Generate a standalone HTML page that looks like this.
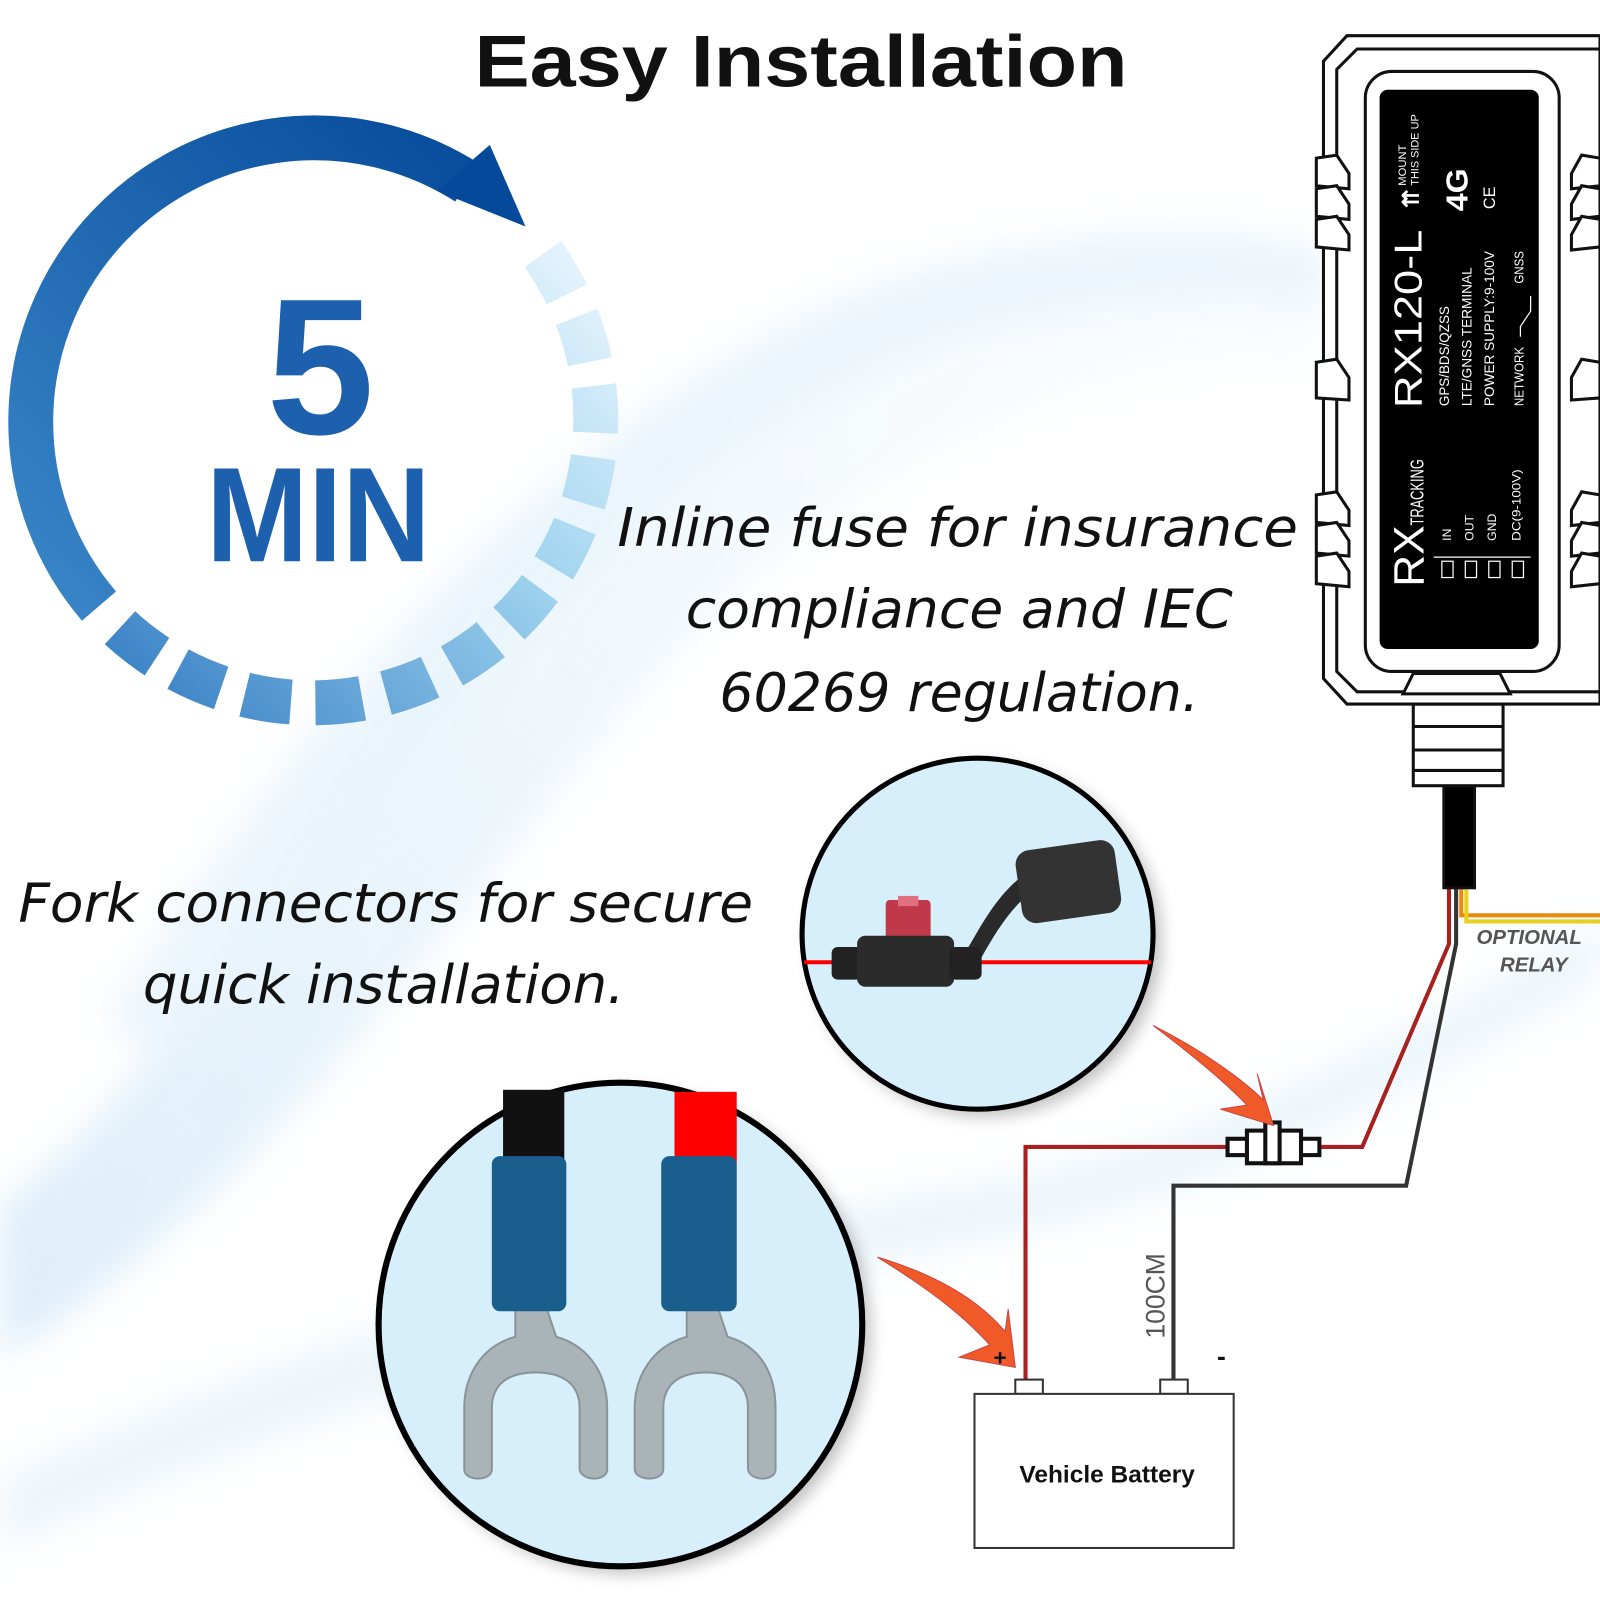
<!DOCTYPE html>
<html><head><meta charset="utf-8"><style>
html,body{margin:0;padding:0;background:#fff;}
svg{display:block;}
</style></head><body>
<svg width="1600" height="1600" viewBox="0 0 1568 1568" xmlns="http://www.w3.org/2000/svg">
<defs>
<linearGradient id="solidG" gradientUnits="userSpaceOnUse" x1="500" y1="150" x2="60" y2="620">
<stop offset="0" stop-color="#054a9a"/><stop offset="1" stop-color="#3a86c8"/></linearGradient>
<linearGradient id="dashG" gradientUnits="userSpaceOnUse" x1="540" y1="230" x2="110" y2="630">
<stop offset="0" stop-color="#e4f3fd"/><stop offset="0.4" stop-color="#9fd3ef"/><stop offset="1" stop-color="#3f86c8"/></linearGradient>
<linearGradient id="wave" x1="0" y1="1" x2="1" y2="0">
<stop offset="0" stop-color="#cfe6f6" stop-opacity="0.8"/><stop offset="1" stop-color="#eef7fc" stop-opacity="0.3"/></linearGradient>
<filter id="bl"><feGaussianBlur stdDeviation="18"/></filter>
<filter id="sh"><feGaussianBlur stdDeviation="8"/></filter>
</defs>
<!-- background waves -->
<g filter="url(#bl)" opacity="0.9">
<path d="M0 1180 C250 1000 350 600 650 420 C900 270 1150 250 1300 270 L1300 360 C1100 340 900 420 700 600 C500 800 300 1150 0 1330 Z" fill="url(#wave)"/>
<path d="M0 1450 C300 1300 700 1200 1000 1150 C1200 1110 1400 1000 1568 900 L1568 960 C1400 1060 1200 1170 1000 1210 C700 1270 300 1380 0 1520 Z" fill="#e3f1fa" opacity="0.7"/>
<path d="M100 1000 C300 700 500 450 800 300 C1000 210 1200 220 1300 240 L1300 300 C1150 280 950 300 780 400 C550 540 350 800 180 1050 Z" fill="#e6f2fb" opacity="0.8"/>
</g>

<!-- title -->
<text x="785" y="85" text-anchor="middle" font-family="Liberation Sans, sans-serif" font-weight="bold" font-size="72" fill="#111" textLength="640" lengthAdjust="spacingAndGlyphs">Easy Installation</text>

<!-- timer circle -->
<path d="M 97 594 A 278 278 0 0 1 458 179" fill="none" stroke="url(#solidG)" stroke-width="44"/>
<polygon points="428,187 480,142 515,222" fill="#054a9a"/>
<path d="M 532 249 A 278 278 0 0 1 110 608" fill="none" stroke="url(#dashG)" stroke-width="44" stroke-dasharray="46 24"/>
<text x="314" y="425" text-anchor="middle" font-family="Liberation Sans, sans-serif" font-weight="bold" font-size="190" fill="#1d60ae">5</text>
<text x="312" y="550" text-anchor="middle" font-family="Liberation Sans, sans-serif" font-weight="bold" font-size="132" fill="#1d60ae" textLength="220" lengthAdjust="spacingAndGlyphs">MIN</text>

<!-- handwritten texts -->
<g font-family="DejaVu Sans, sans-serif" font-style="italic" font-size="52" fill="#111">
<text x="605" y="535" textLength="667" lengthAdjust="spacingAndGlyphs">Inline fuse for insurance</text>
<text x="672" y="615" textLength="536" lengthAdjust="spacingAndGlyphs">compliance and IEC</text>
<text x="705" y="697" textLength="470" lengthAdjust="spacingAndGlyphs">60269 regulation.</text>
<text x="18" y="903" textLength="720" lengthAdjust="spacingAndGlyphs">Fork connectors for secure</text>
<text x="140" y="983" textLength="472" lengthAdjust="spacingAndGlyphs">quick installation.</text>
</g>

<!-- fuse circle -->
<circle cx="966" cy="922" r="172" fill="#000" opacity="0.25" filter="url(#sh)"/>
<circle cx="958" cy="915" r="172" fill="#d6effb" stroke="#000" stroke-width="5"/>
<line x1="788" y1="943" x2="1128" y2="943" stroke="#f00" stroke-width="4"/>
<path d="M948 930 C960 910 975 880 1000 860 L1010 875 C990 890 975 915 962 938 Z" fill="#2a2a2a"/>
<rect x="998" y="828" width="98" height="72" rx="14" fill="#333" transform="rotate(-8 1047 864)"/>
<rect x="868" y="882" width="44" height="40" rx="4" fill="#c0394a"/>
<rect x="880" y="878" width="20" height="10" fill="#e07080"/>
<rect x="815" y="928" width="30" height="32" rx="6" fill="#222"/>
<rect x="840" y="917" width="95" height="50" rx="8" fill="#2b2b2b"/>
<rect x="930" y="928" width="32" height="32" rx="6" fill="#222"/>

<!-- fork circle -->
<circle cx="616" cy="1305" r="237" fill="#000" opacity="0.25" filter="url(#sh)"/>
<circle cx="608" cy="1298" r="237" fill="#d6effb" stroke="#000" stroke-width="6"/>
<rect x="493" y="1068" width="60" height="72" fill="#111"/>
<rect x="661" y="1070" width="61" height="70" fill="#f00"/>
<g fill="#aab3b8" stroke="#8a9499" stroke-width="2">
<path d="M505 1280 L535 1280 L545 1310 C580 1320 595 1350 595 1380 L595 1440 C595 1452 570 1452 568 1440 L568 1380 C568 1355 550 1345 525 1345 C500 1345 482 1355 482 1380 L482 1440 C482 1452 455 1452 455 1440 L455 1380 C455 1350 470 1320 505 1310 Z"/>
<path d="M673 1280 L703 1280 L713 1310 C748 1320 760 1350 760 1380 L760 1440 C760 1452 735 1452 733 1440 L733 1380 C733 1355 715 1345 692 1345 C668 1345 650 1355 650 1380 L650 1440 C650 1452 623 1452 622 1440 L622 1380 C622 1350 638 1320 673 1310 Z"/>
</g>
<rect x="482" y="1133" width="73" height="152" rx="8" fill="#1a5e8e"/>
<rect x="648" y="1133" width="74" height="152" rx="8" fill="#1a5e8e"/>

<!-- wires -->
<path d="M1432 860 L1432 897 L1568 897" fill="none" stroke="#e88a10" stroke-width="4"/>
<path d="M1437 860 L1437 903 L1568 903" fill="none" stroke="#e8d020" stroke-width="4"/>
<path d="M1420 860 L1420 925 L1335 1124 L1005 1124 L1005 1352" fill="none" stroke="#a82020" stroke-width="4"/>
<path d="M1427 860 L1427 925 L1378 1162 L1150 1162 L1150 1352" fill="none" stroke="#333" stroke-width="4"/>
<text x="1447" y="925" font-family="Liberation Sans, sans-serif" font-style="italic" font-weight="bold" font-size="20" fill="#555">OPTIONAL</text>
<text x="1470" y="952" font-family="Liberation Sans, sans-serif" font-style="italic" font-weight="bold" font-size="20" fill="#555">RELAY</text>

<!-- fuse symbol -->
<g fill="#fff" stroke="#111" stroke-width="4">
<rect x="1203" y="1116" width="20" height="16"/>
<rect x="1273" y="1116" width="20" height="16"/>
<rect x="1222" y="1108" width="53" height="32"/>
<rect x="1240" y="1100" width="14" height="40"/>
</g>

<!-- orange arrows -->
<path d="M1130 1005 C1180 1030 1220 1060 1238 1078 L1232 1052 L1248 1103 L1196 1087 L1222 1083 C1200 1060 1170 1035 1130 1005 Z" fill="#f05a28" stroke="#c44" stroke-width="1"/>
<path d="M860 1232 C920 1250 960 1275 985 1305 L988 1283 L995 1340 L940 1330 L970 1318 C940 1285 905 1260 860 1232 Z" fill="#f05a28" stroke="#c44" stroke-width="1"/>

<!-- battery -->
<rect x="995" y="1352" width="27" height="14" fill="#fff" stroke="#333" stroke-width="2"/>
<rect x="1137" y="1352" width="27" height="14" fill="#fff" stroke="#333" stroke-width="2"/>
<rect x="955" y="1366" width="254" height="151" fill="#fff" stroke="#333" stroke-width="2"/>
<text x="1085" y="1453" text-anchor="middle" font-family="Liberation Sans, sans-serif" font-weight="bold" font-size="24" fill="#111">Vehicle Battery</text>
<text x="980" y="1338" text-anchor="middle" font-family="Liberation Sans, sans-serif" font-weight="bold" font-size="22" fill="#111">+</text>
<text x="1197" y="1338" text-anchor="middle" font-family="Liberation Sans, sans-serif" font-weight="bold" font-size="26" fill="#111">-</text>
<text transform="translate(1141 1270) rotate(-90)" text-anchor="middle" font-family="Liberation Sans, sans-serif" font-size="26" fill="#555">100CM</text>

<!-- device -->
<g fill="#fff" stroke="#111" stroke-width="3">
<rect x="1415" y="765" width="30" height="105" fill="#000"/>
<rect x="1385" y="690" width="88" height="80"/>
<line x1="1385" y1="712" x2="1473" y2="712"/><line x1="1385" y1="735" x2="1473" y2="735"/><line x1="1385" y1="755" x2="1473" y2="755"/>
<polygon points="1320,35 1568,35 1568,690 1320,690 1297,665 1297,60"/>
<polygon points="1330,48 1568,48 1568,678 1330,678 1310,658 1310,68"/>
<rect x="1338" y="70" width="190" height="588" rx="26"/>
<polygon points="1385,660 1470,660 1480,680 1375,680"/>
<g>
<polygon points="1290,155 1310,152 1322,170 1322,185 1290,182"/>
<polygon points="1290,185 1310,182 1322,200 1322,215 1290,212"/>
<polygon points="1290,215 1310,212 1322,230 1322,245 1290,242"/>
<polygon points="1290,355 1310,352 1322,370 1322,392 1290,390"/>
<polygon points="1290,485 1310,482 1322,500 1322,515 1290,512"/>
<polygon points="1290,515 1310,512 1322,530 1322,545 1290,542"/>
<polygon points="1290,545 1310,542 1322,560 1322,575 1290,572"/>
<polygon points="1568,155 1550,152 1540,170 1540,185 1568,182"/>
<polygon points="1568,185 1550,182 1540,200 1540,215 1568,212"/>
<polygon points="1568,215 1550,212 1540,230 1540,245 1568,242"/>
<polygon points="1568,355 1550,352 1540,370 1540,392 1568,390"/>
<polygon points="1568,485 1550,482 1540,500 1540,515 1568,512"/>
<polygon points="1568,515 1550,512 1540,530 1540,545 1568,542"/>
<polygon points="1568,545 1550,542 1540,560 1540,575 1568,572"/>
</g>
</g>
<rect x="1352" y="88" width="156" height="548" rx="8" fill="#000"/>
<g fill="#fff" font-family="Liberation Sans, sans-serif">
<text transform="translate(1393 400) rotate(-90)" font-size="38" textLength="175" lengthAdjust="spacingAndGlyphs">RX120-L</text>
<text transform="translate(1420 398) rotate(-90)" font-size="14" textLength="98" lengthAdjust="spacingAndGlyphs">GPS/BDS/QZSS</text>
<text transform="translate(1442 398) rotate(-90)" font-size="14" textLength="136" lengthAdjust="spacingAndGlyphs">LTE/GNSS TERMINAL</text>
<text transform="translate(1464 398) rotate(-90)" font-size="14" textLength="152" lengthAdjust="spacingAndGlyphs">POWER SUPPLY:9-100V</text>
<text transform="translate(1493 398) rotate(-90)" font-size="13" textLength="58" lengthAdjust="spacingAndGlyphs">NETWORK</text>
<text transform="translate(1493 278) rotate(-90)" font-size="13" textLength="32" lengthAdjust="spacingAndGlyphs">GNSS</text>
<text transform="translate(1438 207) rotate(-90)" font-size="30" font-weight="bold" textLength="42" lengthAdjust="spacingAndGlyphs">4G</text>
<text transform="translate(1465 205) rotate(-90)" font-size="16">CE</text>
<text transform="translate(1378 182) rotate(-90)" font-size="11">MOUNT</text>
<text transform="translate(1390 182) rotate(-90)" font-size="11" textLength="70" lengthAdjust="spacingAndGlyphs">THIS SIDE UP</text>
<text transform="translate(1390 204) rotate(-90)" font-size="22" font-weight="bold">⇈</text>
<text transform="translate(1395 575) rotate(-90)" font-size="42" textLength="60" lengthAdjust="spacingAndGlyphs">RX</text>
<text transform="translate(1395 515) rotate(-90)" font-size="18" textLength="65" lengthAdjust="spacingAndGlyphs">TRACKING</text>
<text transform="translate(1422 530) rotate(-90)" font-size="12">IN</text>
<text transform="translate(1444 530) rotate(-90)" font-size="12">OUT</text>
<text transform="translate(1466 530) rotate(-90)" font-size="12">GND</text>
<text transform="translate(1490 530) rotate(-90)" font-size="12" textLength="70" lengthAdjust="spacingAndGlyphs">DC(9-100V)</text>
</g>
<g fill="none" stroke="#fff" stroke-width="1.2">
<rect x="1413" y="550" width="11" height="16"/><rect x="1436" y="550" width="11" height="16"/>
<rect x="1459" y="550" width="11" height="16"/><rect x="1482" y="550" width="11" height="16"/>
<line x1="1405" y1="546" x2="1500" y2="546"/>
<path d="M1490 330 L1490 320 L1500 305 L1500 290"/>
</g>
</svg>
</body></html>
